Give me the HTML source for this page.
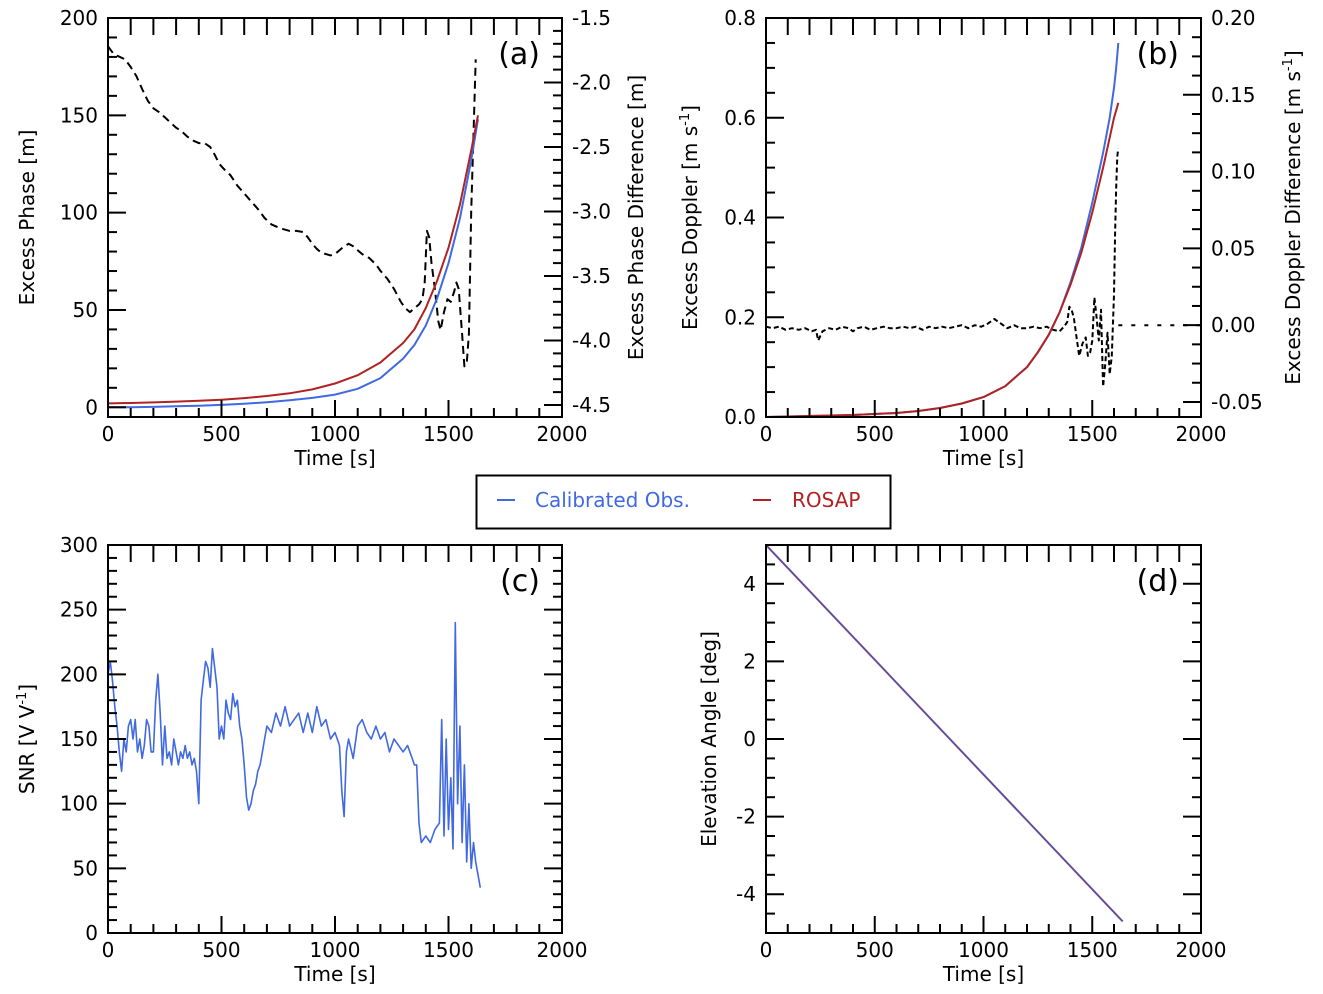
<!DOCTYPE html>
<html><head><meta charset="utf-8"><style>
html,body{margin:0;padding:0;background:#fff;}
svg{display:block;font-family:"DejaVu Sans","Liberation Sans",sans-serif;}
</style></head><body>
<svg id="fig" width="1323" height="994" viewBox="0 0 1323 994" xmlns="http://www.w3.org/2000/svg">
<g id="layer"></g>
<g>
<rect x="476.5" y="475.5" width="414" height="53" fill="#fff" stroke="#000" stroke-width="2"/>
<line x1="497" y1="500" x2="515" y2="500" stroke="#4169e1" stroke-width="2"/>
<text x="535" y="507" font-size="20" fill="#4169e1">Calibrated Obs.</text>
<line x1="753" y1="500" x2="771" y2="500" stroke="#b22222" stroke-width="2"/>
<text x="792" y="507" font-size="20" fill="#b22222">ROSAP</text>
</g>
</svg>
<script>
// ---- data ----
const phaseT = [0,100,200,300,400,500,600,700,800,900,1000,1100,1200,1300,1350,1400,1450,1500,1550,1600,1630];
const phaseObs = [0,0,0.2,0.5,0.8,1.2,1.8,2.6,3.6,4.8,6.5,9.5,15,25,32,42,56,74,97,127,148];
const phaseRos = [2,2.2,2.5,2.9,3.3,3.9,4.7,5.8,7.2,9.2,12.2,16.5,23,33,40,51,65,82,104,132,150];
const phaseDiffT = [0,25,50,75,100,125,150,175,200,225,250,275,300,325,350,375,400,425,450,470,490,510,540,570,600,630,660,690,720,760,800,830,860,880,900,920,940,960,980,1000,1020,1040,1060,1080,1100,1120,1150,1180,1200,1230,1260,1290,1310,1330,1350,1370,1385,1395,1405,1415,1425,1440,1455,1465,1480,1495,1510,1525,1535,1545,1560,1570,1580,1590,1600,1610,1620];
const phaseDiff = [-1.72,-1.78,-1.8,-1.82,-1.88,-1.95,-2.05,-2.14,-2.2,-2.23,-2.27,-2.31,-2.35,-2.38,-2.42,-2.45,-2.47,-2.47,-2.5,-2.56,-2.63,-2.67,-2.72,-2.8,-2.86,-2.92,-2.98,-3.05,-3.1,-3.13,-3.15,-3.15,-3.16,-3.2,-3.25,-3.29,-3.32,-3.33,-3.34,-3.33,-3.3,-3.27,-3.25,-3.27,-3.3,-3.33,-3.36,-3.41,-3.46,-3.52,-3.6,-3.7,-3.75,-3.78,-3.75,-3.72,-3.68,-3.55,-3.15,-3.2,-3.4,-3.6,-3.85,-3.92,-3.78,-3.68,-3.7,-3.62,-3.55,-3.6,-3.95,-4.2,-4.18,-3.95,-3.0,-2.4,-1.82];
const dopT = [0,200,400,600,700,800,900,1000,1100,1200,1250,1300,1350,1400,1450,1500,1550,1580,1600,1610,1620];
const dopObs = [0,0.002,0.004,0.008,0.012,0.018,0.027,0.04,0.062,0.1,0.13,0.165,0.21,0.27,0.34,0.43,0.53,0.6,0.66,0.7,0.75];
const dopRos = [0,0.002,0.004,0.008,0.012,0.018,0.027,0.04,0.062,0.1,0.13,0.165,0.21,0.265,0.33,0.41,0.5,0.56,0.6,0.615,0.63];
const dopDiffT = [0,30,60,90,120,150,180,210,230,240,260,290,320,350,380,400,420,450,480,510,540,570,600,630,660,690,720,750,780,810,840,870,900,930,960,990,1020,1050,1080,1110,1140,1170,1200,1230,1260,1290,1320,1350,1370,1385,1395,1405,1415,1425,1440,1455,1470,1480,1490,1500,1510,1520,1530,1540,1550,1560,1570,1580,1590,1600,1605,1610,1615,1620];
const dopDiff = [-0.001,-0.002,-0.001,-0.003,-0.002,-0.003,-0.002,-0.004,-0.003,-0.01,-0.004,-0.002,-0.003,-0.001,-0.002,-0.004,-0.002,-0.001,-0.003,-0.002,-0.001,-0.002,-0.002,-0.001,-0.002,-0.001,-0.003,-0.001,-0.002,-0.001,-0.002,-0.001,0.0,-0.002,0.0,-0.001,0.001,0.004,0.001,-0.002,0.0,-0.002,-0.002,-0.001,-0.002,-0.001,-0.003,-0.004,-0.001,0.002,0.012,0.01,0.005,-0.005,-0.02,-0.012,-0.008,-0.02,-0.018,-0.01,0.018,0.005,-0.01,0.01,-0.04,-0.025,-0.005,-0.032,-0.02,0.02,0.06,0.09,0.11,0.115];
const snrT = [0,10,20,30,40,50,60,70,80,90,100,110,120,130,140,150,160,170,180,190,200,210,220,230,240,250,260,270,280,290,300,310,320,330,340,350,360,370,380,390,400,410,420,430,440,450,460,470,480,490,500,510,520,530,540,550,560,570,580,590,600,610,620,630,640,650,660,670,680,690,700,720,740,760,780,800,820,840,860,880,900,920,940,960,980,1000,1020,1030,1040,1050,1060,1080,1100,1120,1140,1160,1180,1200,1220,1240,1260,1280,1300,1320,1340,1350,1360,1370,1380,1400,1420,1440,1460,1470,1480,1490,1500,1510,1520,1530,1540,1550,1560,1570,1580,1590,1600,1610,1620,1630,1640];
const snrVals = [200,210,195,175,160,140,125,150,140,160,165,150,165,140,150,135,145,165,160,140,140,180,200,170,130,160,135,140,130,150,140,130,140,135,145,135,140,130,135,125,100,180,195,210,205,190,220,205,190,150,160,150,180,170,165,185,175,180,160,150,130,105,95,100,110,115,125,130,140,150,160,155,170,160,175,160,165,170,155,170,155,175,160,165,150,155,145,110,90,140,150,135,160,165,155,150,160,150,155,140,150,145,140,145,135,130,130,85,70,75,70,80,85,165,75,150,80,120,65,240,100,160,70,130,55,100,50,70,55,45,35];
const elevT = [0,1640];
const elevVals = [5,-4.7];

const svg = document.getElementById('fig');
const layer = document.getElementById('layer');
const NS = 'http://www.w3.org/2000/svg';
function mk(tag, attrs, parent){const e=document.createElementNS(NS,tag);for(const k in attrs)e.setAttribute(k,attrs[k]);(parent||layer).appendChild(e);return e;}
function scale(d0,d1,r0,r1){return v=>r0+(v-d0)*(r1-r0)/(d1-d0);}

function panel(o){
  const g = mk('g',{});
  
  
  const X = scale(0,2000,o.x0,o.x1), Y = scale(o.ymin,o.ymax,o.y1,o.y0);
  const cid = o.name+'-clip';
  const cp = mk('clipPath',{id:cid},g);
  mk('rect',{x:o.x0,y:o.y0,width:o.x1-o.x0,height:o.y1-o.y0},cp);
  const series = mk('g',{'clip-path':'url(#'+cid+')'},g);
  for(let v=0; v<=2000; v+=100){
    const px=X(v), maj = v%500===0;
    const t1 = mk('line',{x1:px,y1:o.y1,x2:px,y2:o.y1-(maj?17:9),stroke:'#000','stroke-width':2},g);
    
    
    mk('line',{x1:px,y1:o.y0,x2:px,y2:o.y0+17,stroke:'#000','stroke-width':2},g);
    if(maj){const t=mk('text',{x:px,y:o.y1+24,'font-size':20,'text-anchor':'middle'},g);t.textContent=String(v);
      
      }
  }
  const xl = mk('text',{x:(o.x0+o.x1)/2,y:o.y1+48,'font-size':20,'text-anchor':'middle'},g);
  xl.textContent='Time [s]';
  
  
  const eps=1e-9;
  for(let v=o.lmin; v<=o.ymax+eps; v+=o.lminor){
    const py=Y(v); const maj = Math.abs(Math.round(v/o.lmaj)*o.lmaj - v)<1e-6;
    mk('line',{x1:o.x0,y1:py,x2:o.x0+(maj?18:9),y2:py,stroke:'#000','stroke-width':2},g);
    if(!o.right) mk('line',{x1:o.x1,y1:py,x2:o.x1-(maj?18:9),y2:py,stroke:'#000','stroke-width':2},g);
    if(maj){const t=mk('text',{x:o.x0-10,y:py+7,'font-size':20,'text-anchor':'end'},g);t.textContent=o.lfmt(Math.round(v/o.lmaj)*o.lmaj);
      
      }
  }
  const yl = mk('text',{x:0,y:0,'font-size':20,'text-anchor':'middle',transform:`translate(${o.ylx},${(o.y0+o.y1)/2}) rotate(-90)`},g);
  yl.innerHTML=o.ylabel;
  
  
  let R=null;
  if(o.right){
    R = scale(o.rmin,o.rmax,o.y1,o.y0);
    for(let v=o.rstart; v<=o.rmax+eps; v+=o.rminor){
      const py=R(v); const maj = Math.abs(Math.round(v/o.rmaj)*o.rmaj - v)<1e-6;
      mk('line',{x1:o.x1,y1:py,x2:o.x1-(maj?18:9),y2:py,stroke:'#000','stroke-width':2},g);
      if(maj){let vv=Math.round(v/o.rmaj)*o.rmaj; if(Math.abs(vv)<1e-9) vv=0;
        const t=mk('text',{x:o.x1+10,y:py+7,'font-size':20,'text-anchor':'start'},g);t.textContent=o.rfmt(vv);
        
        }
    }
    const rl = mk('text',{x:0,y:0,'font-size':20,'text-anchor':'middle',transform:`translate(${o.rlx},${(o.y0+o.y1)/2}) rotate(-90)`},g);
    rl.innerHTML=o.rlabel;
    
    
  }
  const fr = mk('rect',{x:o.x0,y:o.y0,width:o.x1-o.x0,height:o.y1-o.y0,fill:'none',stroke:'#000','stroke-width':2},g);
  
  
  const pl = mk('text',{x:o.x1-22,y:o.y0+46,'font-size':30,'text-anchor':'end'},g);
  pl.textContent=o.tag;
  
  
  return {X,Y,R,series};
}
function line(p, ts, vs, sc, color, name, extra){
  const d = ts.map((t,i)=>(i?'L':'M')+p.X(t).toFixed(1)+','+sc(vs[i]).toFixed(1)).join('');
  const e = mk('path',Object.assign({d,fill:'none',stroke:color,'stroke-width':2,'stroke-linejoin':'round'},extra||{}),p.series);
  
  
  return e;
}

// (a)
const pa = panel({name:'panel-a-excess-phase',x0:108,x1:562,y0:18,y1:417,ymin:-5,ymax:200,lmin:0,lmaj:50,lminor:10,lfmt:v=>String(Math.round(v)),
  ylabel:'Excess Phase [m]',ylx:34,right:true,rmin:-4.593,rmax:-1.5,rstart:-4.5,rmaj:0.5,rminor:0.1,rfmt:v=>v.toFixed(1),
  rlabel:'Excess Phase Difference [m]',rlx:643,tag:'(a)'});
line(pa, phaseDiffT, phaseDiff, pa.R, '#000', 'phase-difference-line', {'stroke-dasharray':'8,5'});
line(pa, phaseT, phaseObs, pa.Y, '#4169e1', 'phase-calibrated-line');
line(pa, phaseT, phaseRos, pa.Y, '#b22222', 'phase-rosap-line');

// (b)
const pb = panel({name:'panel-b-excess-doppler',x0:766,x1:1201,y0:18,y1:417,ymin:0,ymax:0.8,lmin:0,lmaj:0.2,lminor:0.05,lfmt:v=>v.toFixed(1),
  ylabel:'Excess Doppler [m s<tspan dy="-8" font-size="13">-1</tspan><tspan dy="8">]</tspan>',ylx:697,right:true,rmin:-0.0598,rmax:0.2,rstart:-0.05,rmaj:0.05,rminor:0.0125,rfmt:v=>v.toFixed(2),
  rlabel:'Excess Doppler Difference [m s<tspan dy="-8" font-size="13">-1</tspan><tspan dy="8">]</tspan>',rlx:1300,tag:'(b)'});
line(pb, dopDiffT, dopDiff, pb.R, '#000', 'doppler-difference-line', {'stroke-dasharray':'5,3'});
line(pb, [1620,2000], [0,0], pb.R, '#000', 'doppler-difference-tail', {'stroke-dasharray':'4,9'});
line(pb, dopT, dopObs, pb.Y, '#4169e1', 'doppler-calibrated-line');
line(pb, dopT, dopRos, pb.Y, '#b22222', 'doppler-rosap-line');

// (c)
const pc = panel({name:'panel-c-snr',x0:108,x1:562,y0:545,y1:933,ymin:0,ymax:300,lmin:0,lmaj:50,lminor:10,lfmt:v=>String(Math.round(v)),
  ylabel:'SNR [V V<tspan dy="-8" font-size="13">-1</tspan><tspan dy="8">]</tspan>',ylx:34,right:false,tag:'(c)'});
line(pc, snrT, snrVals, pc.Y, '#4169e1', 'snr-line', {'stroke-width':1.6});

// (d)
const pd = panel({name:'panel-d-elevation',x0:766,x1:1201,y0:545,y1:933,ymin:-5,ymax:5,lmin:-5,lmaj:2,lminor:0.5,lfmt:v=>String(Math.round(v)),
  ylabel:'Elevation Angle [deg]',ylx:716,right:false,tag:'(d)'});
line(pd, elevT, elevVals, pd.Y, '#4169e1', 'elevation-calibrated-line');
line(pd, elevT, elevVals, pd.Y, '#b22222', 'elevation-rosap-line', {'stroke-width':1,'stroke-opacity':0.7});
</script>
</body></html>
